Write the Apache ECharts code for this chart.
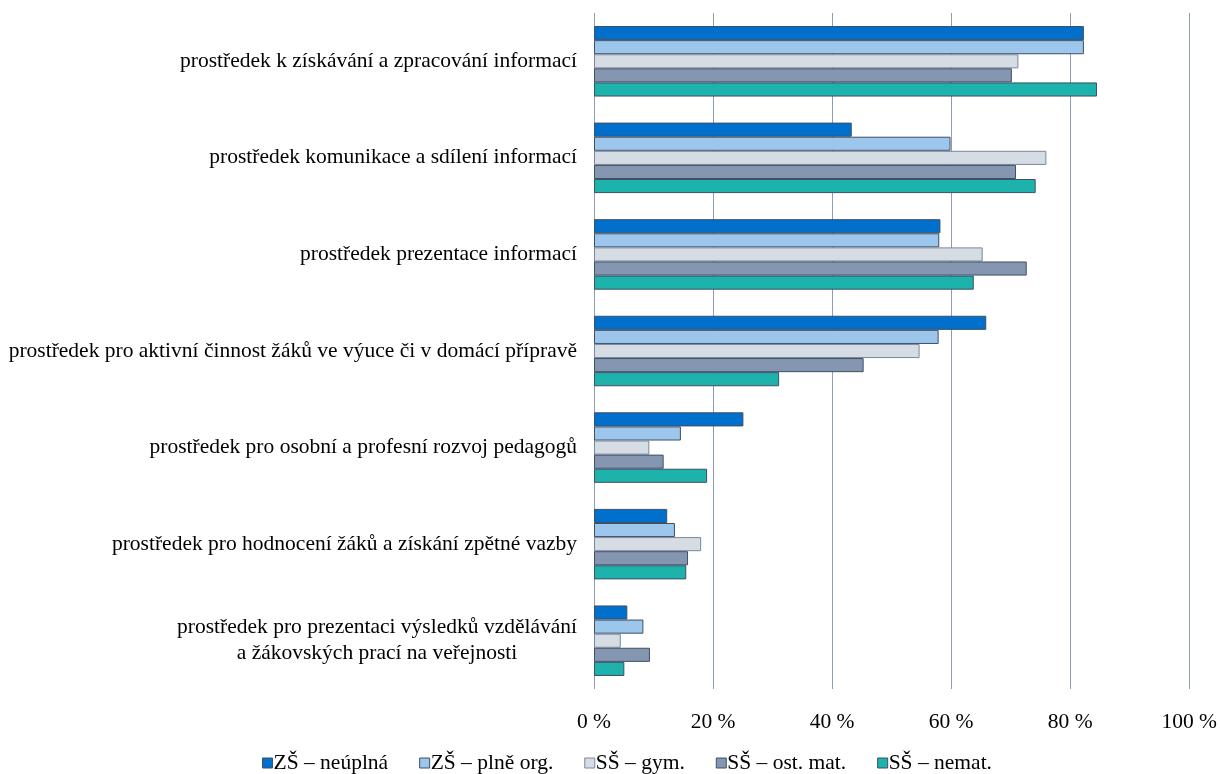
<!DOCTYPE html>
<html>
<head>
<meta charset="utf-8">
<script src="https://cdn.jsdelivr.net/npm/echarts@6/dist/echarts.min.js"></script>
<style>
  html, body { margin: 0; padding: 0; background: #fff; }
  #chart { width: 1220px; height: 774px; }
</style>
</head>
<body>
<div id="chart"></div>
<script>
// Categories listed top to bottom
const categories = [
  'prostředek k získávání a zpracování informací',
  'prostředek komunikace a sdílení informací',
  'prostředek prezentace informací',
  'prostředek pro aktivní činnost žáků ve výuce či v domácí přípravě',
  'prostředek pro osobní a profesní rozvoj pedagogů',
  'prostředek pro hodnocení žáků a získání zpětné vazby',
  'prostředek pro prezentaci výsledků vzdělávání\na žákovských prací na veřejnosti'
];

const seriesNames = ['ZŠ – neúplná', 'ZŠ – plně org.', 'SŠ – gym.', 'SŠ – ost. mat.', 'SŠ – nemat.'];

// Shares in percent, same order as categories
const zsNeuplna  = [82.3, 43.3, 58.2, 65.9, 25.1, 12.3, 5.6];
const zsPlne     = [82.3, 59.9, 58.0, 57.9, 14.6, 13.6, 8.3];
const ssGym      = [71.3, 76.0, 65.3, 54.7,  9.3, 18.0, 4.5];
const ssOstMat   = [70.2, 70.9, 72.7, 45.3, 11.7, 15.8, 9.4];
const ssNemat    = [84.5, 74.2, 63.8, 31.1, 19.0, 15.5, 5.1];

const xTicks = [0, 20, 40, 60, 80, 100];

const seriesData = [zsNeuplna, zsPlne, ssGym, ssOstMat, ssNemat];
const colors  = ['#0070CC', '#9DC6EC', '#D6DCE4', '#8496B0', '#1DB2AC'];
const borders = ['#3E4F66', '#3E4F66', '#7A889C', '#3E4F66', '#3E4F66'];

const font = '"Liberation Serif", "Times New Roman", serif';
const fs = 21.5;

const chart = echarts.init(document.getElementById('chart'), null, { renderer: 'canvas' });

chart.setOption({
  animation: false,
  textStyle: { fontFamily: font },
  grid: { left: 594, right: 28, top: 13, bottom: 85, containLabel: false },
  legend: {
    bottom: -5,
    left: 257,
    itemWidth: 10,
    itemHeight: 10,
    itemGap: 31,
    icon: 'rect',
    textStyle: { fontFamily: font, fontSize: fs, color: '#000', padding: [0, 0, 0, -4] },
    data: seriesNames.map((n, i) => ({
      name: n,
      itemStyle: { color: colors[i], borderColor: borders[i], borderWidth: 1 }
    }))
  },
  xAxis: {
    type: 'value',
    min: xTicks[0],
    max: xTicks[xTicks.length - 1],
    interval: xTicks[1] - xTicks[0],
    axisLine: { show: false },
    axisTick: { show: false },
    splitLine: { show: true, lineStyle: { color: '#8E9DB3', width: 1 } },
    axisLabel: {
      margin: 22,
      fontFamily: font,
      fontSize: fs,
      color: '#000',
      formatter: v => v + ' %'
    }
  },
  yAxis: {
    type: 'category',
    inverse: true,
    data: categories,
    axisLine: { show: false },
    axisTick: { show: false },
    axisLabel: {
      margin: 17,
      fontFamily: font,
      fontSize: fs,
      color: '#000',
      lineHeight: 26,
      formatter: function (v) {
        if (v.indexOf('\n') >= 0) {
          return v.split('\n').map(s => '{c|' + s + '}').join('\n');
        }
        return v;
      },
      rich: {
        c: { align: 'center', fontFamily: font, fontSize: fs, color: '#000', lineHeight: 26 }
      }
    }
  },
  series: seriesNames.map((n, i) => ({
    name: n,
    type: 'bar',
    data: seriesData[i],
    barGap: '0%',
    barCategoryGap: '27%',
    itemStyle: { color: colors[i], borderColor: borders[i], borderWidth: 1 }
  }))
});
</script>
</body>
</html>
